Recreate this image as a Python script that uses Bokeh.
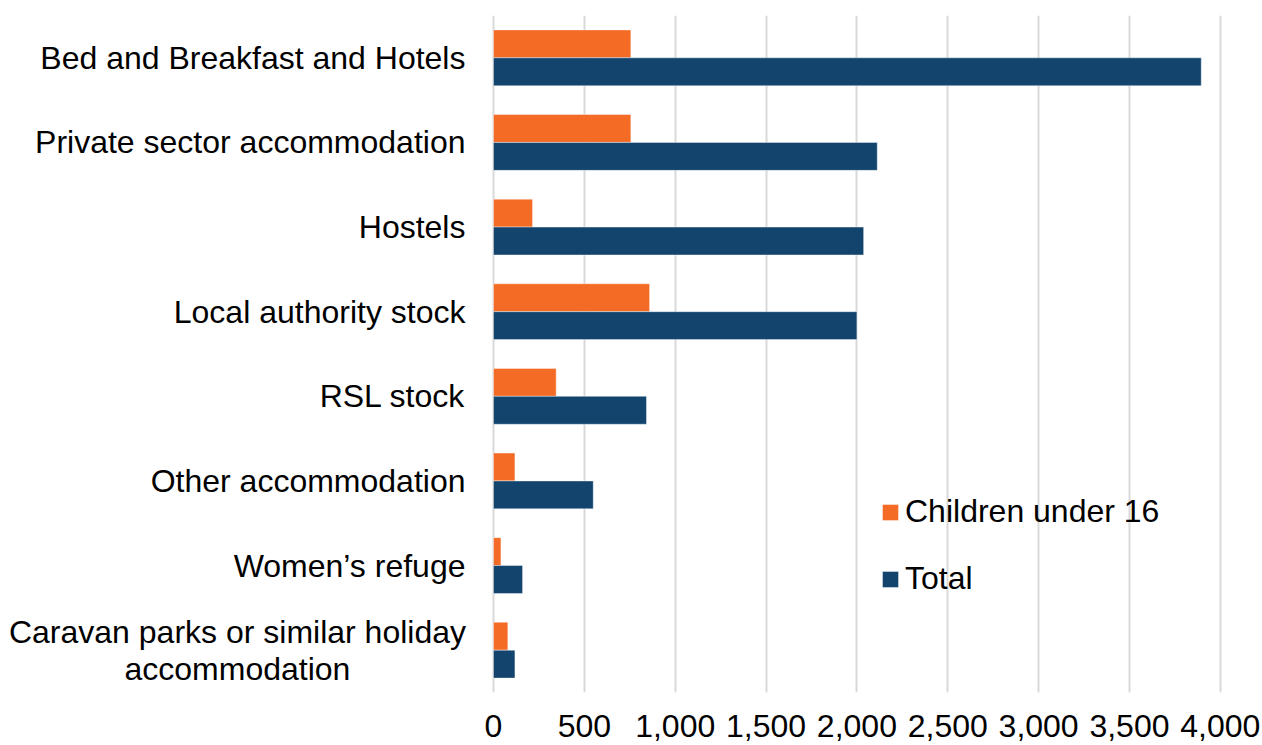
from bokeh.plotting import figure
from bokeh.models import FactorRange, Range1d, FixedTicker, NumeralTickFormatter, ColumnDataSource, Legend, LegendItem
from bokeh.transform import dodge
from bokeh.core.properties import value
from bokeh.embed import file_html
from bokeh.resources import INLINE

categories = [
    "Bed and Breakfast and Hotels",
    "Private sector accommodation",
    "Hostels",
    "Local authority stock",
    "RSL stock",
    "Other accommodation",
    "Women\u2019s refuge",
    "Caravan parks or similar holiday\naccommodation",
]
children_under_16 = [756, 756, 215, 859, 345, 118, 41, 79]
total = [3895, 2112, 2037, 2000, 842, 549, 160, 118]
x_ticks = [0, 500, 1000, 1500, 2000, 2500, 3000, 3500, 4000]
series_names = ["Children under 16", "Total"]

ORANGE = "#F46B26"
NAVY = "#13446D"
FONT = "Liberation Sans"
FS = "32px"

source = ColumnDataSource(dict(cat=categories, children=children_under_16, total=total,
                               zero=[0] * len(categories)))
single = ColumnDataSource(dict(cat=categories[:-1], zero=[0] * (len(categories) - 1)))
multi = ColumnDataSource(dict(cat=categories[-1:], zero=[0]))

p = figure(
    width=1262, height=745,
    y_range=FactorRange(*reversed(categories)),
    x_range=Range1d(-2713, 4100),
    output_backend="svg", toolbar_location=None,
    min_border_left=0, min_border_right=24, min_border_top=15, min_border_bottom=53,
)
p.outline_line_color = None
p.background_fill_color = "white"
p.border_fill_color = "white"

r_children = p.hbar(y=dodge("cat", 0.165, range=p.y_range), right="children", height=0.33, left=0,
                    source=source, fill_color=ORANGE, line_color="white", line_alpha=0.4, line_width=1)
r_total = p.hbar(y=dodge("cat", -0.165, range=p.y_range), right="total", height=0.33, left=0,
                 source=source, fill_color=NAVY, line_color="white", line_alpha=0.4, line_width=1)

# category labels
p.text(x="zero", y="cat", text="cat", source=single, x_offset=-28,
       text_align="right", text_baseline="middle", text_font=value(FONT),
       text_font_size=FS, text_color="#000000")
p.text(x="zero", y="cat", text="cat", source=multi, x_offset=-256,
       text_align="center", text_baseline="middle", text_font=value(FONT),
       text_font_size=FS, text_color="#000000", text_line_height=1.02)

# grid / axes
p.ygrid.grid_line_color = None
p.xgrid.grid_line_color = "#D9D9D9"
p.xgrid.grid_line_width = 2
p.xaxis.ticker = FixedTicker(ticks=x_ticks)
p.xgrid.ticker = FixedTicker(ticks=x_ticks)
p.xaxis.formatter = NumeralTickFormatter(format="0,0")
p.yaxis.visible = False

p.xaxis.axis_line_color = None
p.xaxis.major_tick_line_color = None
p.xaxis.minor_tick_line_color = None
p.xaxis.major_label_text_font = FONT
p.xaxis.major_label_text_font_size = FS
p.xaxis.major_label_text_color = "#000000"
p.xaxis.major_label_standoff = 16

legend = Legend(items=[LegendItem(label=series_names[0], renderers=[r_children]),
                       LegendItem(label=series_names[1], renderers=[r_total])],
                location=(880, 95))
legend.border_line_color = None
legend.background_fill_alpha = 0
legend.label_text_font = FONT
legend.label_text_font_size = FS
legend.label_text_color = "#000000"
legend.glyph_width = 20
legend.glyph_height = 20
legend.spacing = 30
legend.padding = 0
legend.margin = 0
legend.label_standoff = 5
p.add_layout(legend)

open("out.html", "w").write(file_html(p, INLINE))
